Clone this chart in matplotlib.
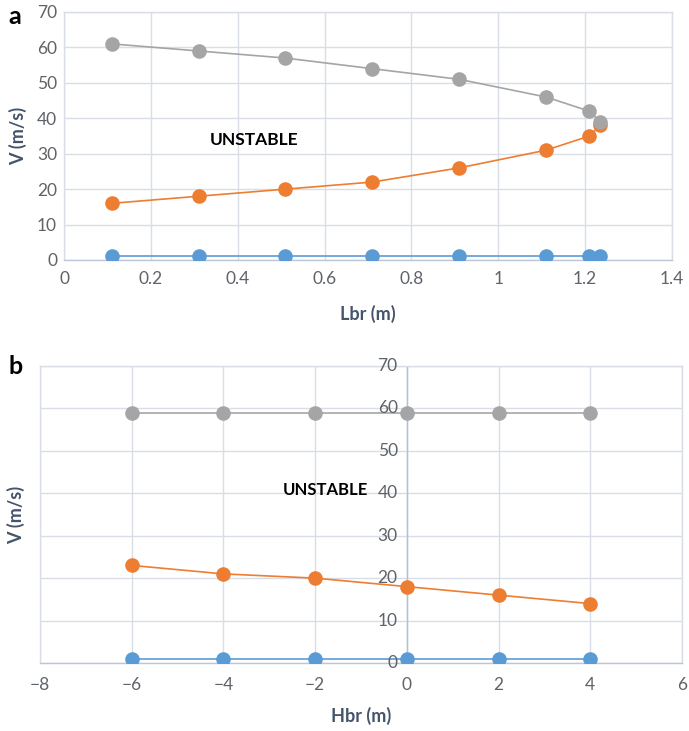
import matplotlib.pyplot as plt

plt.rcParams['font.family'] = ['Lato', 'DejaVu Sans']

# panel a data
lbr = [0.11, 0.31, 0.51, 0.71, 0.91, 1.11, 1.21, 1.235]
v_gray_a = [61, 59, 57, 54, 51, 46, 42, 39]
v_orange_a = [16, 18, 20, 22, 26, 31, 35, 38]
v_blue_a = [1, 1, 1, 1, 1, 1, 1, 1]

# panel b data
hbr = [-6, -4, -2, 0, 2, 4]
v_gray_b = [59, 59, 59, 59, 59, 59]
v_orange_b = [23, 21, 20, 18, 16, 14]
v_blue_b = [1, 1, 1, 1, 1, 1]

GRAY = '#A5A5A5'
ORANGE = '#ED7D31'
BLUE = '#5B9BD5'
GRID = '#D9DEE6'
TICK = '#5F6368'
LABEL = '#44546A'
TS = 12.5

fig = plt.figure(figsize=(6.89, 7.31), dpi=100)


def style(ax):
    ax.grid(True, color=GRID, linewidth=1)
    ax.set_axisbelow(True)
    for s in ax.spines.values():
        s.set_color(GRID)
        s.set_linewidth(1)
    ax.tick_params(length=0, labelsize=TS, labelcolor=TICK)


def draw(ax, x, series):
    for y, c in series:
        ax.plot(x, y, color=c, lw=1.2, marker='o', ms=10.5, mec='none', zorder=3)


# ---- panel a
ax1 = fig.add_axes([64/689, 1-260/731, 608/689, 248/731])
style(ax1)
draw(ax1, lbr, [(v_blue_a, BLUE), (v_orange_a, ORANGE), (v_gray_a, GRAY)])
ax1.set_xlim(0, 1.4)
ax1.set_ylim(0, 70)
ax1.set_xticks([0, 0.2, 0.4, 0.6, 0.8, 1, 1.2, 1.4])
ax1.set_xticklabels(['0', '0.2', '0.4', '0.6', '0.8', '1', '1.2', '1.4'])
ax1.set_yticks(range(0, 71, 10))
ax1.tick_params(axis='x', pad=8)
ax1.tick_params(axis='y', pad=5)
ax1.spines['bottom'].set_color('#BCC6D6')
ax1.text(0.335, 34, 'UNSTABLE', fontsize=12.5, fontweight='bold', va='center')
ax1.set_xlabel('Lbr (m)', fontsize=13, fontweight='bold', color=LABEL, labelpad=13)
ax1.set_ylabel('V (m/s)', fontsize=13, fontweight='bold', color=LABEL, labelpad=7)

# ---- panel b
ax2 = fig.add_axes([40/689, 1-663/731, 642/689, 297/731])
style(ax2)
draw(ax2, hbr, [(v_blue_b, BLUE), (v_orange_b, ORANGE), (v_gray_b, GRAY)])
ax2.set_xlim(-8, 6)
ax2.set_ylim(0, 70)
ax2.set_xticks(range(-8, 7, 2))
ax2.set_yticks(range(0, 71, 10))
ax2.set_yticklabels([])
ax2.spines['bottom'].set_color('#BCC6D6')
ax2.axvline(0, color='#AFC0D8', lw=1, zorder=1)
for yv in range(0, 71, 10):
    ax2.text(-0.2, yv, str(yv), ha='right', va='center', fontsize=TS, color=TICK)
ax2.tick_params(axis='x', pad=10)
ax2.text(-2.7, 40.8, 'UNSTABLE', fontsize=12, fontweight='bold', va='center')
ax2.set_xlabel('Hbr (m)', fontsize=13, fontweight='bold', color=LABEL, labelpad=10)
ax2.set_ylabel('V (m/s)', fontsize=13, fontweight='bold', color=LABEL, labelpad=7)

fig.text(8/689, 1-16/731, 'a', fontsize=18, fontweight='bold', va='center')
fig.text(8/689, 1-366/731, 'b', fontsize=18, fontweight='bold', va='center')

fig.savefig('out.png', dpi=100)
